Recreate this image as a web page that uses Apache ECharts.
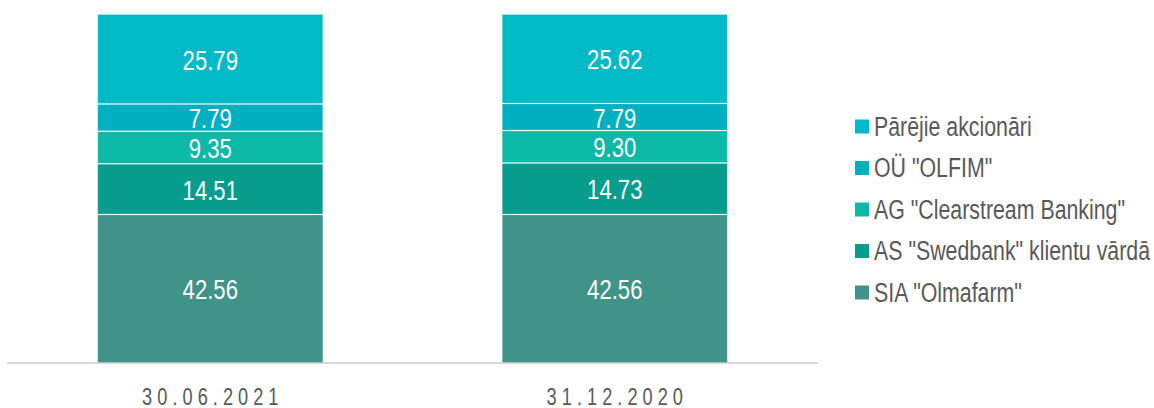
<!DOCTYPE html>
<html>
<head>
<meta charset="utf-8">
<script src="https://cdn.jsdelivr.net/npm/echarts@6/dist/echarts.min.js"></script>
<style>
    html,body{margin:0;padding:0;background:#fff;}
    #main{width:1154px;height:408px;}
</style>
</head>
<body>
<div id="main"></div>
<script>
//日期
var categories = ['30.06.2021', '31.12.2020'];
//系列名称（从下到上）
var seriesNames = ['SIA "Olmafarm"', 'AS "Swedbank" klientu vārdā', 'AG "Clearstream Banking"', 'OÜ "OLFIM"', 'Pārējie akcionāri'];
//各系列数值
var olmafarm = [42.56, 42.56];
var swedbank = [14.51, 14.73];
var clearstream = [9.35, 9.30];
var olfim = [7.79, 7.79];
var parejie = [25.79, 25.62];
var colors = ['#3f9389', '#069d8d', '#0cb9a7', '#00b0c0', '#00bac8'];

var fontName = "'Liberation Sans', Arial, sans-serif";
//没有窄体字体，文字横向压缩
var narrow = 0.79;

var main = {
    init: function () {
        var myChart = echarts.init(document.getElementById('main'), null, {renderer: 'svg'});
        var values = [olmafarm, swedbank, clearstream, olfim, parejie];
        var series = [];
        for (var i = 0; i < values.length; i++) {
            series.push({
                name: seriesNames[i],
                type: 'bar',
                stack: 'total',
                barWidth: 226,
                data: values[i],
                itemStyle: {
                    color: colors[i],
                    borderColor: 'rgba(255,255,255,0.18)',
                    borderWidth: 1
                },
                label: {
                    show: true,
                    position: 'inside',
                    offset: [0, 1],
                    color: '#fff',
                    fontFamily: fontName,
                    fontSize: 28,
                    formatter: function (p) {
                        return p.value.toFixed(2);
                    }
                }
            });
        }
        var option = {
            animation: false,
            color: colors,
            legend: {
                orient: 'vertical',
                left: 850,
                top: 108,
                itemWidth: 14,
                itemHeight: 14,
                itemGap: 14.5,
                icon: 'rect',
                itemStyle: {borderWidth: 0},
                data: seriesNames.slice().reverse(),
                textStyle: {
                    color: '#595959',
                    fontFamily: fontName,
                    fontSize: 27,
                    lineHeight: 26
                }
            },
            grid: {
                left: 8,
                right: 337,
                top: 14,
                bottom: 44
            },
            xAxis: {
                type: 'category',
                data: categories,
                axisLine: {lineStyle: {color: '#d9d9d9', width: 2}},
                axisTick: {show: false},
                axisLabel: {
                    color: '#595959',
                    fontFamily: fontName,
                    fontSize: 23,
                    margin: 22,
                    //字间距
                    formatter: function (v) {
                        return v.split('').join(' ');
                    }
                }
            },
            yAxis: {
                type: 'value',
                min: 0,
                max: 100,
                show: false
            },
            series: series
        };
        myChart.setOption(option);
        condense();
        myChart.on('finished', condense);
    }
};

function condense() {
    var texts = document.querySelectorAll('#main svg text');
    for (var i = 0; i < texts.length; i++) {
        var t = texts[i];
        if (t.getAttribute('data-narrow')) continue;
        var w = t.getComputedTextLength();
        if (!w) continue;
        t.setAttribute('textLength', (w * narrow).toFixed(2));
        t.setAttribute('lengthAdjust', 'spacingAndGlyphs');
        t.setAttribute('data-narrow', '1');
    }
}
main.init();
</script>
</body>
</html>
